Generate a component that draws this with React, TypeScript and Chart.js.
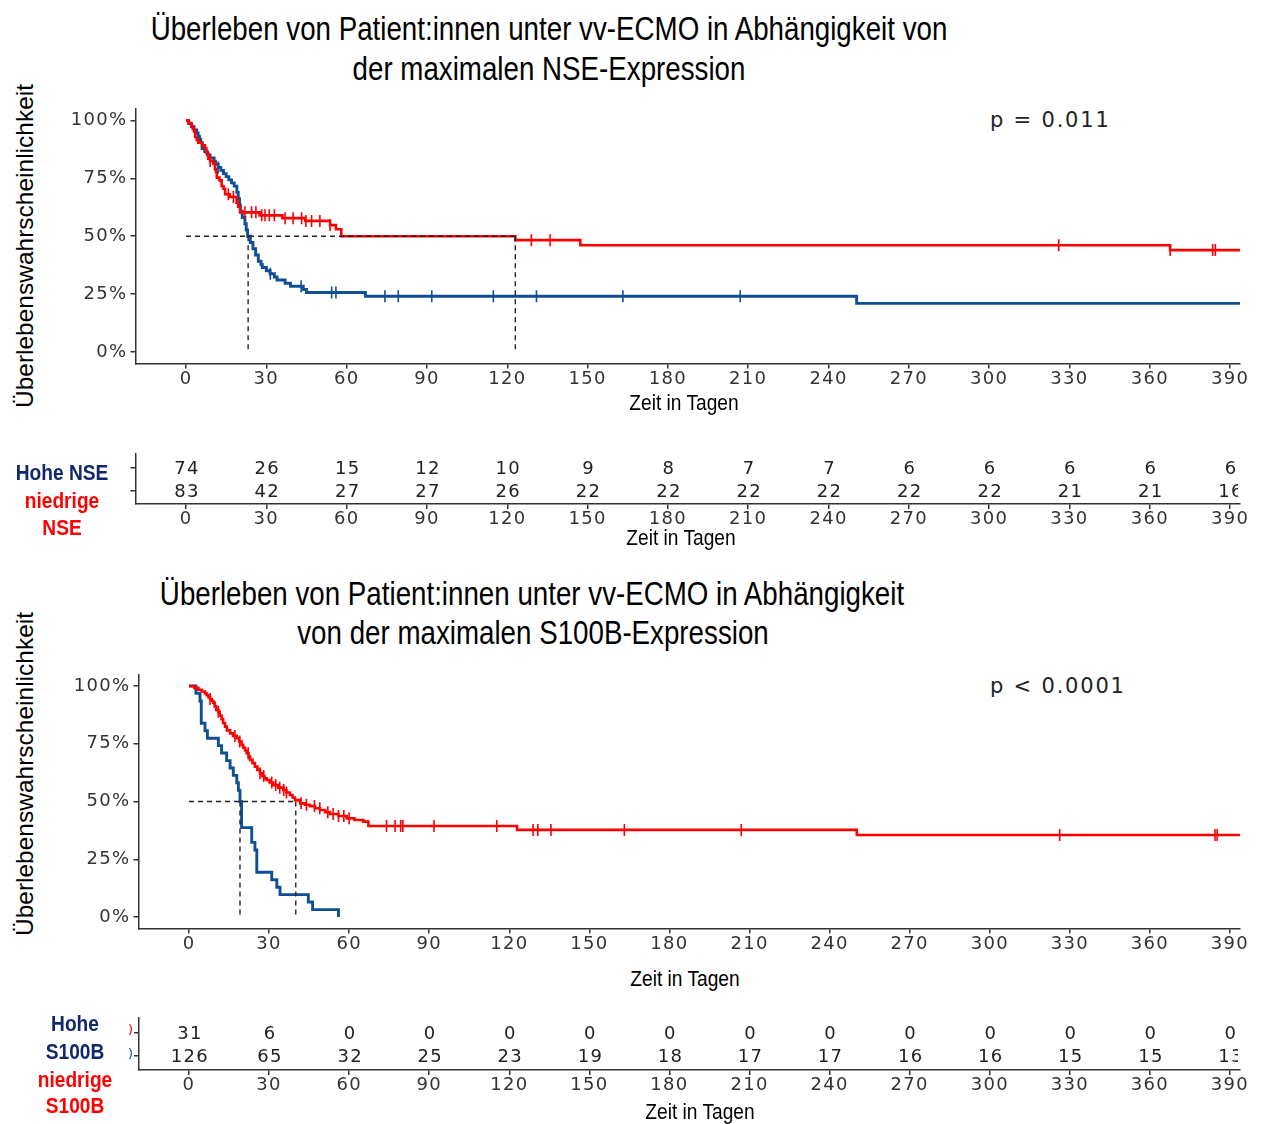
import React, { useEffect, useRef } from "react";
import { Chart, registerables } from "chart.js";

Chart.register(...registerables);

// ---------- shared axis values ----------
const X_TICKS = [0, 30, 60, 90, 120, 150, 180, 210, 240, 270, 300, 330, 360, 390];
const Y_TICKS = [0, 0.25, 0.5, 0.75, 1];
const RISK_ROWS = [1, 2];

// ---------- NSE: high (blue) ----------
const NSE_HIGH_T = [0, 1, 2, 3, 4, 4.5, 5, 5.5, 6, 7, 8, 9, 10.5, 11, 12, 13, 14, 15, 16, 17, 18, 19, 19.5, 20, 20.3, 21, 22, 22.5, 23, 24, 25, 26, 27, 28, 28.5, 30, 31.4, 33, 34, 37, 39, 43.8, 45, 67, 250.5, 394];
const NSE_HIGH_S = [1, 0.986, 0.973, 0.959, 0.946, 0.932, 0.919, 0.905, 0.878, 0.865, 0.851, 0.838, 0.824, 0.811, 0.797, 0.784, 0.77, 0.757, 0.743, 0.73, 0.716, 0.689, 0.662, 0.635, 0.608, 0.581, 0.554, 0.527, 0.5, 0.473, 0.446, 0.419, 0.392, 0.378, 0.365, 0.351, 0.338, 0.324, 0.311, 0.297, 0.284, 0.27, 0.257, 0.241, 0.21, 0.21];
const NSE_HIGH_CENSOR = [12, 31.5, 43, 54.4, 56, 74.3, 79.3, 91.8, 114.8, 130.9, 163.2, 207];
const NSE_HIGH_MEDIAN = 23.2;

// ---------- NSE: low (red) ----------
const NSE_LOW_T = [0, 1, 2, 2.5, 3, 3.4, 4, 4.6, 6, 7.1, 7.6, 8.3, 9, 10.2, 10.8, 11.2, 11.5, 12.5, 13.3, 14, 14.6, 16.4, 18.9, 19.5, 20.2, 27.5, 36, 44.5, 53.8, 56, 58, 123, 147.3, 367.6, 394];
const NSE_LOW_S = [1, 0.988, 0.976, 0.964, 0.952, 0.928, 0.916, 0.904, 0.892, 0.88, 0.859, 0.835, 0.825, 0.813, 0.789, 0.777, 0.753, 0.741, 0.717, 0.705, 0.681, 0.669, 0.645, 0.627, 0.603, 0.59, 0.578, 0.566, 0.548, 0.53, 0.5, 0.483, 0.461, 0.44, 0.44];
const NSE_LOW_CENSOR = [9, 15.8, 17.7, 22, 24.5, 26.1, 28.3, 29.5, 31.1, 33, 37, 40, 43.2, 44.8, 46.9, 50, 53.8, 129, 136, 326, 367.6, 383.5, 384.5];
const NSE_LOW_MEDIAN = 123;

const NSE_RISK_HIGH = [74, 26, 15, 12, 10, 9, 8, 7, 7, 6, 6, 6, 6, 6];
const NSE_RISK_LOW = [83, 42, 27, 27, 26, 22, 22, 22, 22, 22, 22, 21, 21, 16];

// ---------- S100B: high (blue) ----------
const S100B_HIGH_T = [0, 2.6, 4.1, 4.6, 6, 6.9, 11, 12.2, 14.1, 15.4, 16.6, 17.9, 18.5, 19.1, 19.7, 23.5, 24.7, 25.4, 31, 32.9, 34.1, 44.7, 46.3, 56];
const S100B_HIGH_S = [1, 0.968, 0.935, 0.839, 0.806, 0.774, 0.742, 0.71, 0.677, 0.645, 0.613, 0.581, 0.548, 0.5, 0.387, 0.323, 0.29, 0.194, 0.161, 0.129, 0.097, 0.065, 0.032, 0];
const S100B_HIGH_CENSOR: number[] = [];
const S100B_HIGH_MEDIAN = 19.1;

// ---------- S100B: low (red) ----------
const S100B_LOW_T = [0, 2, 3.5, 4.8, 6, 6.6, 7.3, 7.9, 8.5, 9.1, 9.6, 10.2, 11, 11.5, 12.2, 12.8, 13.5, 14.2, 15.4, 16.5, 17.9, 18.8, 19.7, 20.3, 21, 21.6, 22.3, 22.9, 23.8, 24.7, 25.6, 26.6, 27.5, 28.3, 29.1, 30.2, 31.6, 33.5, 35.3, 36.5, 37.8, 38.8, 39.7, 41.6, 43.5, 45.3, 47.2, 49.1, 51, 52.8, 56, 59.1, 62, 65.3, 67.2, 122.9, 250.2, 394];
const S100B_LOW_S = [1, 0.992, 0.984, 0.976, 0.968, 0.96, 0.952, 0.944, 0.936, 0.928, 0.912, 0.896, 0.888, 0.872, 0.856, 0.84, 0.824, 0.808, 0.795, 0.784, 0.774, 0.76, 0.745, 0.733, 0.721, 0.709, 0.695, 0.68, 0.666, 0.651, 0.637, 0.622, 0.61, 0.6, 0.593, 0.582, 0.571, 0.56, 0.55, 0.539, 0.528, 0.517, 0.506, 0.492, 0.486, 0.48, 0.471, 0.463, 0.454, 0.446, 0.437, 0.427, 0.42, 0.413, 0.394, 0.377, 0.355, 0.355];
const S100B_LOW_CENSOR = [7.9, 11, 17.2, 19, 22.2, 26.6, 28, 31, 32.5, 34, 35.5, 36.5, 42, 44, 47, 49, 52, 54, 56, 58, 60, 74, 77.2, 79.3, 80.1, 91.8, 115.3, 128.9, 130.7, 135.6, 163.1, 206.9, 326.2, 384.4, 385.2];
const S100B_LOW_MEDIAN = 40;

const S100B_RISK_HIGH = [31, 6, 0, 0, 0, 0, 0, 0, 0, 0, 0, 0, 0, 0];
const S100B_RISK_LOW = [126, 65, 32, 25, 23, 19, 18, 17, 17, 16, 16, 15, 15, 13];

// ---------- styles ----------
const RED = "#ff0000";
const BLUE = "#0f4f96";
const NAVY = "#10296b";
const AXIS = "#333333";
const TICK_FONT = { family: "DejaVu Sans", size: 18 };
const SPACING = "1.3px";

function survAt(T: number[], S: number[], t: number) {
  let v = S[0];
  for (let i = 0; i < T.length; i++) {
    if (T[i] <= t) v = S[i];
    else break;
  }
  return v;
}

const spacingPlugin = {
  id: "letterSpacing",
  beforeDraw(chart: any) {
    chart.ctx.letterSpacing = SPACING;
  },
};

const riskPlugin = {
  id: "riskNumbers",
  afterDatasetsDraw(chart: any) {
    const { ctx, chartArea } = chart;
    ctx.save();
    ctx.beginPath();
    ctx.rect(chartArea.left, 0, chartArea.right - chartArea.left - 2, chart.height);
    ctx.clip();
    ctx.fillStyle = "#222";
    ctx.font = '18px "DejaVu Sans"';
    ctx.letterSpacing = SPACING;
    ctx.textAlign = "center";
    ctx.textBaseline = "middle";
    chart.data.datasets.forEach((ds: any, di: number) => {
      const meta = chart.getDatasetMeta(di);
      meta.data.forEach((pt: any, i: number) => {
        ctx.fillText(String(ds.counts[i]), pt.x + 1, pt.y + 1.5);
      });
    });
    ctx.restore();
  },
};

function xScale(min: number, max: number, height: number) {
  return {
    type: "linear",
    min,
    max,
    afterBuildTicks: (s: any) => {
      s.ticks = X_TICKS.map((v) => ({ value: v }));
    },
    afterFit: (s: any) => {
      s.height = height;
    },
    ticks: {
      autoSkip: false,
      maxRotation: 0,
      minRotation: 0,
      color: AXIS,
      font: TICK_FONT,
      padding: 0,
      callback: (v: any) => String(v),
    },
    grid: { drawOnChartArea: false, drawTicks: true, tickLength: 5, color: AXIS, lineWidth: 1.5 },
    border: { display: true, color: AXIS, width: 1.5 },
  };
}

function yScale(min: number, max: number, width: number, ticks: number[], showLabels: boolean) {
  return {
    type: "linear",
    min,
    max,
    afterBuildTicks: (s: any) => {
      s.ticks = ticks.map((v) => ({ value: v }));
    },
    afterFit: (s: any) => {
      s.width = width;
    },
    ticks: {
      display: showLabels,
      color: AXIS,
      font: TICK_FONT,
      padding: 3,
      callback: (v: any) => Math.round(v * 100) + "%",
    },
    grid: { drawOnChartArea: false, drawTicks: true, tickLength: 5, color: AXIS, lineWidth: 1.5 },
    border: { display: true, color: AXIS, width: 1.5 },
  };
}

function kmConfig(p: any) {
  const pts = (T: number[], S: number[]) => T.map((t, i) => ({ x: t, y: S[i] }));
  const cens = (C: number[], T: number[], S: number[]) => C.map((t) => ({ x: t, y: survAt(T, S, t) }));
  const medMax = Math.max(p.medLow, p.medHigh);
  const dash = (data: any[]) => ({
    data,
    showLine: true,
    borderColor: "#222",
    borderWidth: 1.4,
    borderDash: [5, 4],
    pointRadius: 0,
  });
  const censor = (data: any[], color: string) => ({
    data,
    showLine: false,
    pointStyle: "line",
    pointRotation: 90,
    pointRadius: 6,
    pointBorderColor: color,
    pointBorderWidth: 1.6,
    borderColor: color,
  });
  const curve = (data: any[], color: string, w: number) => ({
    data,
    showLine: true,
    stepped: true,
    borderColor: color,
    borderWidth: w,
    pointRadius: 0,
  });
  return {
    type: "scatter",
    data: {
      datasets: [
        dash([{ x: 0, y: 0.5 }, { x: medMax, y: 0.5 }]),
        dash([{ x: p.medLow, y: 0.5 }, { x: p.medLow, y: 0 }]),
        dash([{ x: p.medHigh, y: 0.5 }, { x: p.medHigh, y: 0 }]),
        censor(cens(p.lowC, p.lowT, p.lowS), RED),
        censor(cens(p.highC, p.highT, p.highS), BLUE),
        curve(pts(p.lowT, p.lowS), RED, 2.6),
        curve(pts(p.highT, p.highS), BLUE, 2.9),
      ],
    },
    options: {
      responsive: false,
      animation: false,
      events: [],
      layout: { padding: { left: 0, right: 21, top: p.padTop, bottom: 0 } },
      plugins: { legend: { display: false }, tooltip: { enabled: false } },
      scales: {
        x: xScale(p.xMin, p.xMax, p.xHeight),
        y: yScale(-0.05, 1.05, p.yWidth, Y_TICKS, true),
      },
    },
    plugins: [spacingPlugin],
  };
}

function riskConfig(p: any) {
  return {
    type: "scatter",
    data: {
      datasets: [
        { data: X_TICKS.map((x) => ({ x, y: RISK_ROWS[1] })), counts: p.top, pointRadius: 0 },
        { data: X_TICKS.map((x) => ({ x, y: RISK_ROWS[0] })), counts: p.bottom, pointRadius: 0 },
      ],
    },
    options: {
      responsive: false,
      animation: false,
      events: [],
      layout: { padding: { left: 0, right: 21, top: p.padTop, bottom: 0 } },
      plugins: { legend: { display: false }, tooltip: { enabled: false } },
      scales: {
        x: xScale(p.xMin, p.xMax, p.xHeight),
        y: yScale(p.yMin, p.yMax, p.yWidth, RISK_ROWS, false),
      },
    },
    plugins: [spacingPlugin, riskPlugin],
  };
}

function ChartBox({ left, top, width, height, build }: any) {
  const ref = useRef<HTMLCanvasElement>(null);
  useEffect(() => {
    const chart = new Chart(ref.current as HTMLCanvasElement, build());
    return () => chart.destroy();
  }, []);
  return (
    <canvas
      ref={ref}
      width={width}
      height={height}
      style={{ position: "absolute", left, top, width, height }}
    />
  );
}

function NText({ text, cx, cy, size, color = "#000", bold = false, scale = 0.86 }: any) {
  return (
    <div
      style={{
        position: "absolute",
        left: cx - 500,
        top: cy - size / 2,
        width: 1000,
        textAlign: "center",
        fontFamily: '"Liberation Sans", Arial, sans-serif',
        fontSize: size,
        lineHeight: `${size}px`,
        fontWeight: bold ? 700 : 400,
        color,
        transform: `scaleX(${scale})`,
        transformOrigin: "center",
        whiteSpace: "nowrap",
      }}
    >
      {text}
    </div>
  );
}

function YTitle({ text, cx, cy }: any) {
  return (
    <div
      style={{
        position: "absolute",
        left: cx - 200,
        top: cy - 13,
        width: 400,
        height: 26,
        lineHeight: "26px",
        textAlign: "center",
        fontFamily: '"Liberation Sans", Arial, sans-serif',
        fontSize: 24.5,
        color: "#000",
        transform: "rotate(-90deg)",
        transformOrigin: "center",
        whiteSpace: "nowrap",
      }}
    >
      {text}
    </div>
  );
}

function PText({ text, left, cy }: any) {
  return (
    <div
      style={{
        position: "absolute",
        left,
        top: cy - 12,
        height: 24,
        lineHeight: "24px",
        fontFamily: '"DejaVu Sans", sans-serif',
        fontSize: 21,
        letterSpacing: "1.8px",
        color: "#222",
        whiteSpace: "nowrap",
      }}
    >
      {text}
    </div>
  );
}

export default function App() {
  return (
    <div
      style={{
        position: "absolute",
        left: 0,
        top: 0,
        width: 1261,
        height: 1124,
        background: "#fff",
        overflow: "hidden",
      }}
    >
      <NText text="Überleben von Patient:innen unter vv-ECMO in Abhängigkeit von" cx={549} cy={28} size={33} scale={0.84} />
      <NText text="der maximalen NSE-Expression" cx={549} cy={68} size={33} scale={0.84} />
      <YTitle text="Überlebenswahrscheinlichkeit" cx={25} cy={246} />
      <PText text="p = 0.011" left={990} cy={120} />

      <ChartBox
        left={0}
        top={95}
        width={1261}
        height={300}
        build={() =>
          kmConfig({
            xMin: -18.87,
            xMax: 393.7,
            yWidth: 135.5,
            padTop: 13.4,
            xHeight: 31.4,
            lowT: NSE_LOW_T,
            lowS: NSE_LOW_S,
            lowC: NSE_LOW_CENSOR,
            highT: NSE_HIGH_T,
            highS: NSE_HIGH_S,
            highC: NSE_HIGH_CENSOR,
            medLow: NSE_LOW_MEDIAN,
            medHigh: NSE_HIGH_MEDIAN,
          })
        }
      />
      <NText text="Zeit in Tagen" cx={684} cy={403} size={22} scale={0.87} />

      <ChartBox
        left={0}
        top={440}
        width={1261}
        height={100}
        build={() =>
          riskConfig({
            xMin: -18.87,
            xMax: 393.7,
            yWidth: 135.5,
            padTop: 13.3,
            xHeight: 36,
            yMin: 0.432,
            yMax: 2.6,
            top: NSE_RISK_HIGH,
            bottom: NSE_RISK_LOW,
          })
        }
      />
      <NText text="Zeit in Tagen" cx={681} cy={538} size={22} scale={0.87} />
      <NText text="Hohe NSE" cx={62} cy={473} size={22} bold color={NAVY} scale={0.87} />
      <NText text="niedrige" cx={62} cy={501} size={22} bold color={RED} scale={0.87} />
      <NText text="NSE" cx={62} cy={528} size={22} bold color={RED} scale={0.87} />

      <NText text="Überleben von Patient:innen unter vv-ECMO in Abhängigkeit" cx={532} cy={593} size={33} scale={0.84} />
      <NText text="von der maximalen S100B-Expression" cx={533} cy={632} size={33} scale={0.84} />
      <YTitle text="Überlebenswahrscheinlichkeit" cx={25} cy={774} />
      <PText text="p < 0.0001" left={990} cy={686} />

      <ChartBox
        left={0}
        top={660}
        width={1261}
        height={300}
        build={() =>
          kmConfig({
            xMin: -18.92,
            xMax: 393.75,
            yWidth: 138.5,
            padTop: 14.45,
            xHeight: 31.45,
            lowT: S100B_LOW_T,
            lowS: S100B_LOW_S,
            lowC: S100B_LOW_CENSOR,
            highT: S100B_HIGH_T,
            highS: S100B_HIGH_S,
            highC: S100B_HIGH_CENSOR,
            medLow: S100B_LOW_MEDIAN,
            medHigh: S100B_HIGH_MEDIAN,
          })
        }
      />
      <NText text="Zeit in Tagen" cx={685} cy={979} size={22} scale={0.87} />

      <ChartBox
        left={0}
        top={1005}
        width={1261}
        height={110}
        build={() =>
          riskConfig({
            xMin: -18.73,
            xMax: 393.75,
            yWidth: 139,
            padTop: 13,
            xHeight: 45,
            yMin: 0.4,
            yMax: 2.63,
            top: S100B_RISK_HIGH,
            bottom: S100B_RISK_LOW,
          })
        }
      />
      <div style={{ position: "absolute", left: 128, top: 1022, fontSize: 13, color: RED, fontFamily: '"DejaVu Sans", sans-serif' }}>)</div>
      <div style={{ position: "absolute", left: 128, top: 1046, fontSize: 13, color: BLUE, fontFamily: '"DejaVu Sans", sans-serif' }}>)</div>
      <NText text="Zeit in Tagen" cx={700} cy={1112} size={22} scale={0.87} />
      <NText text="Hohe" cx={75} cy={1024} size={22} bold color={NAVY} scale={0.87} />
      <NText text="S100B" cx={75} cy={1052} size={22} bold color={NAVY} scale={0.87} />
      <NText text="niedrige" cx={75} cy={1080} size={22} bold color={RED} scale={0.87} />
      <NText text="S100B" cx={75} cy={1106} size={22} bold color={RED} scale={0.87} />
    </div>
  );
}
